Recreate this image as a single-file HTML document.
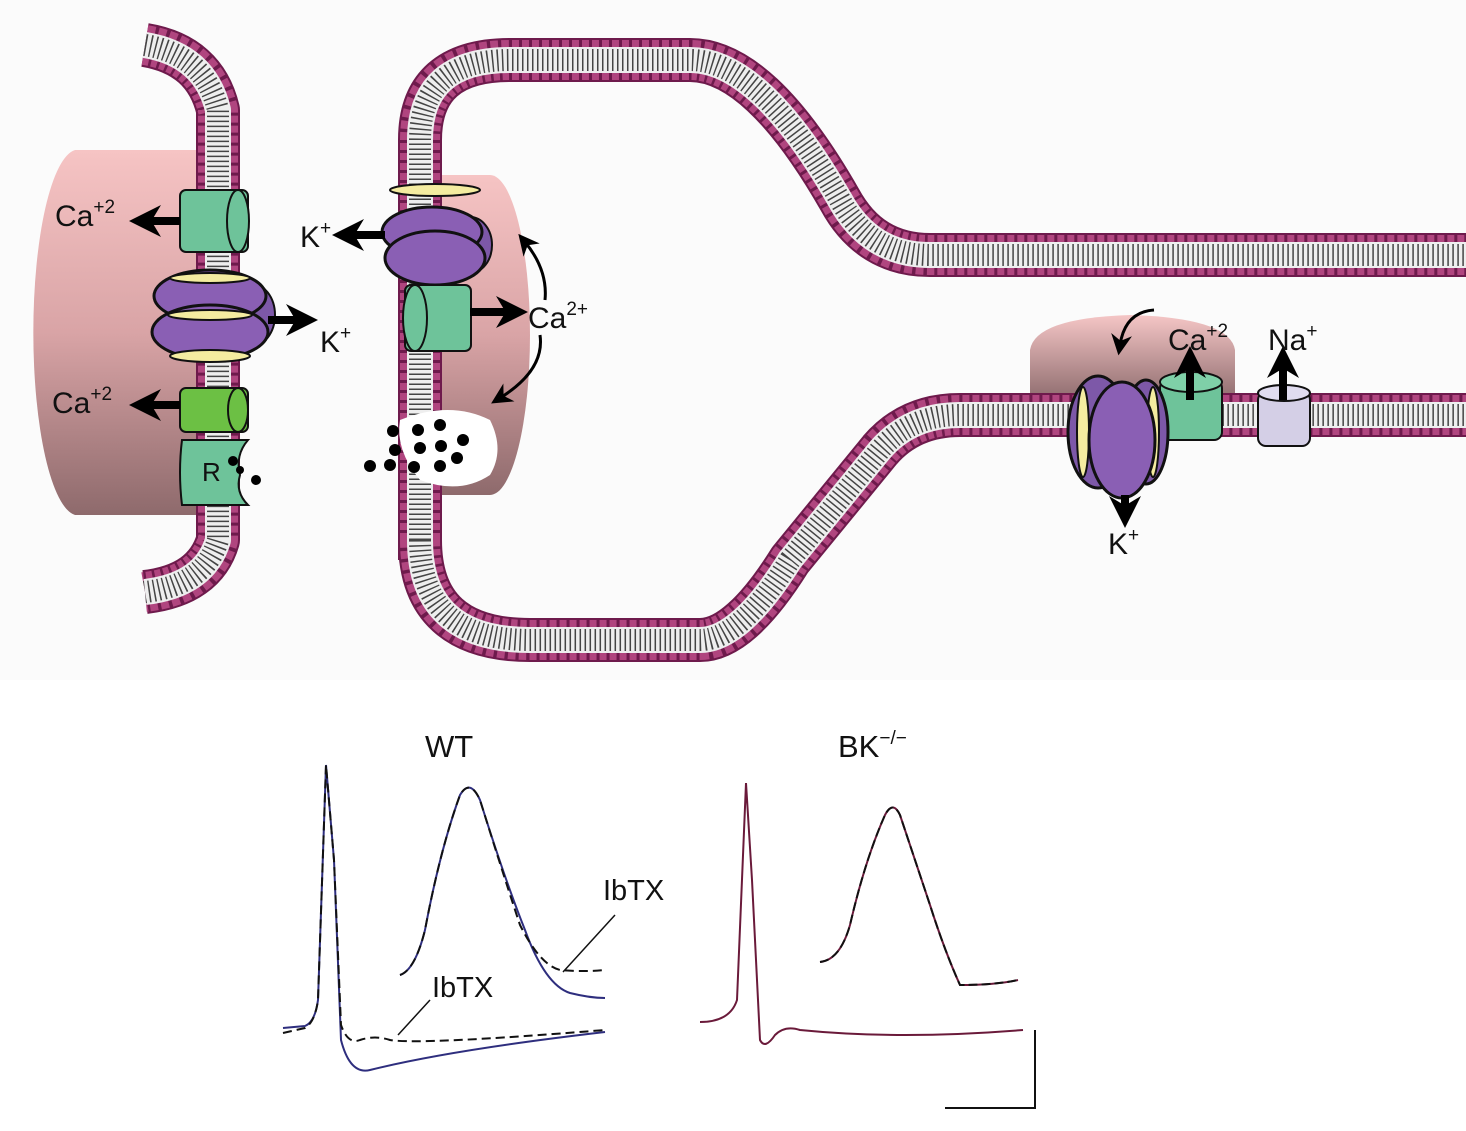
<!DOCTYPE html>
<html><head><meta charset="utf-8"><style>
html,body{margin:0;padding:0;background:#fff}
svg{display:block}
text{font-family:"Liberation Sans",sans-serif;fill:#111}
</style></head><body>
<svg width="1466" height="1131" viewBox="0 0 1466 1131" xmlns="http://www.w3.org/2000/svg">
<defs>
<linearGradient id="pk" x1="0" y1="0" x2="0" y2="1">
<stop offset="0" stop-color="#f6c4c4"/><stop offset="0.5" stop-color="#d9a4a6"/><stop offset="1" stop-color="#8e6a6c"/>
</linearGradient>
<linearGradient id="pk2" x1="0" y1="0" x2="0" y2="1">
<stop offset="0" stop-color="#f5c6c6"/><stop offset="1" stop-color="#8e6c6e"/>
</linearGradient>
<marker id="ah" viewBox="0 0 10 10" refX="5" refY="5" markerWidth="4" markerHeight="4" orient="auto"><path d="M0,0L10,5L0,10L3,5z" fill="#000"/></marker>
<marker id="ahs" viewBox="0 0 10 10" refX="5" refY="5" markerWidth="7" markerHeight="7" orient="auto"><path d="M0,0L10,5L0,10L3,5z" fill="#000"/></marker>
</defs>
<rect width="1466" height="680" fill="#fbfbfb"/>

<path d="M218,150 L75,150 A45,183 0 0 0 75,515 L218,515 Z" fill="url(#pk)"/>
<path d="M425,175 L490,175 A40,160 0 0 1 490,495 L425,495 Z" fill="url(#pk)"/>
<path d="M1030,400 L1030,350 Q1035,318 1130,315 Q1230,318 1235,350 L1235,400 Z" fill="url(#pk2)"/>

<g fill="none" stroke-linejoin="round" stroke-linecap="butt">
<path id="p1" d="M145,45 Q205,55 218,110 L218,540 Q205,585 145,592" stroke="#6e1a4c" stroke-width="44"/>
<path d="M145,45 Q205,55 218,110 L218,540 Q205,585 145,592" stroke="#b0457f" stroke-width="40" stroke-dasharray="7 3"/>
<path d="M145,45 Q205,55 218,110 L218,540 Q205,585 145,592" stroke="#eeeeee" stroke-width="26"/>
<path d="M145,45 Q205,55 218,110 L218,540 Q205,585 145,592" stroke="#444" stroke-width="22" stroke-dasharray="1.5 3.5"/>

<path d="M420,560 L420,140 Q420,60 510,60 L690,60 Q760,60 840,200 Q870,255 930,255 L1466,255" stroke="#6e1a4c" stroke-width="44"/>
<path d="M420,560 L420,140 Q420,60 510,60 L690,60 Q760,60 840,200 Q870,255 930,255 L1466,255" stroke="#b0457f" stroke-width="40" stroke-dasharray="7 3"/>
<path d="M420,560 L420,140 Q420,60 510,60 L690,60 Q760,60 840,200 Q870,255 930,255 L1466,255" stroke="#eeeeee" stroke-width="26"/>
<path d="M420,560 L420,140 Q420,60 510,60 L690,60 Q760,60 840,200 Q870,255 930,255 L1466,255" stroke="#444" stroke-width="22" stroke-dasharray="1.5 3.5"/>
<path d="M420,540 Q420,640 530,640 L700,640 Q740,640 790,560 L880,450 Q910,415 960,415 L1466,415" stroke="#6e1a4c" stroke-width="44"/>
<path d="M420,540 Q420,640 530,640 L700,640 Q740,640 790,560 L880,450 Q910,415 960,415 L1466,415" stroke="#b0457f" stroke-width="40" stroke-dasharray="7 3"/>
<path d="M420,540 Q420,640 530,640 L700,640 Q740,640 790,560 L880,450 Q910,415 960,415 L1466,415" stroke="#eeeeee" stroke-width="26"/>
<path d="M420,540 Q420,640 530,640 L700,640 Q740,640 790,560 L880,450 Q910,415 960,415 L1466,415" stroke="#444" stroke-width="22" stroke-dasharray="1.5 3.5"/>
</g>

<g stroke="#111" stroke-width="2">
<rect x="180" y="190" width="68" height="62" rx="6" fill="#6ec39a"/>
<ellipse cx="238" cy="221" rx="11" ry="31" fill="#6ec39a"/>
<ellipse cx="250" cy="315" rx="25" ry="32" fill="#7d58a8"/>
<ellipse cx="210" cy="296" rx="56" ry="26" fill="#8a5fb4" stroke-width="3"/>
<ellipse cx="210" cy="332" rx="58" ry="27" fill="#8a5fb4" stroke-width="3"/>
<ellipse cx="210" cy="278" rx="40" ry="5" fill="#f4eca0"/>
<ellipse cx="210" cy="315" rx="42" ry="5" fill="#f4eca0"/>
<ellipse cx="210" cy="356" rx="40" ry="6" fill="#f4eca0"/>
<rect x="180" y="388" width="68" height="44" rx="6" fill="#6cc044"/>
<ellipse cx="238" cy="410" rx="10" ry="22" fill="#6cc044"/>
<path d="M182,440 L248,440 Q235,455 240,475 Q235,492 248,505 L182,505 Q178,472 182,440Z" fill="#6ec39a"/>
</g>
<text x="202" y="481" font-size="26">R</text>
<g fill="#000"><circle cx="233" cy="461" r="5"/><circle cx="240" cy="470" r="4"/><circle cx="256" cy="480" r="5"/></g>
<g stroke="#000" stroke-width="8" fill="none" marker-end="url(#ah)">
<line x1="180" y1="221" x2="145" y2="221"/>
<line x1="180" y1="405" x2="145" y2="405"/>
<line x1="268" y1="320" x2="302" y2="320"/>
</g>
<text x="55" y="226" font-size="30">Ca<tspan font-size="19" dy="-13">+2</tspan></text>
<text x="52" y="413" font-size="30">Ca<tspan font-size="19" dy="-13">+2</tspan></text>
<text x="320" y="352" font-size="30">K<tspan font-size="19" dy="-13">+</tspan></text>

<g stroke="#111" stroke-width="2">
<ellipse cx="470" cy="245" rx="22" ry="28" fill="#7d58a8"/>
<ellipse cx="432" cy="232" rx="50" ry="25" fill="#8a5fb4" stroke-width="3"/>
<ellipse cx="435" cy="258" rx="50" ry="27" fill="#8a5fb4" stroke-width="3"/>
<ellipse cx="435" cy="190" rx="45" ry="6" fill="#f4eca0"/>
<rect x="405" y="285" width="66" height="66" rx="6" fill="#6ec39a"/>
<ellipse cx="415" cy="318" rx="12" ry="33" fill="#6ec39a"/>
</g>
<path d="M400,420 Q450,400 490,420 Q505,450 490,475 Q460,495 420,480 Q395,450 400,420Z" fill="#fff"/>
<g fill="#000">
<circle cx="393" cy="431" r="6"/><circle cx="418" cy="430" r="6"/><circle cx="440" cy="425" r="6"/>
<circle cx="395" cy="450" r="6"/><circle cx="420" cy="448" r="6"/><circle cx="441" cy="446" r="6"/><circle cx="463" cy="440" r="6"/>
<circle cx="370" cy="466" r="6"/><circle cx="390" cy="465" r="6"/><circle cx="414" cy="467" r="6"/><circle cx="440" cy="466" r="6"/><circle cx="457" cy="458" r="6"/>
</g>
<g stroke="#000" stroke-width="8" fill="none" marker-end="url(#ah)">
<line x1="385" y1="235" x2="348" y2="235"/>
<line x1="470" y1="312" x2="512" y2="312"/>
</g>
<g stroke="#000" stroke-width="3" fill="none" marker-end="url(#ahs)">
<path d="M545,300 Q548,270 525,242"/>
<path d="M540,335 Q545,370 500,398"/>
</g>
<text x="300" y="247" font-size="30">K<tspan font-size="19" dy="-13">+</tspan></text>
<text x="528" y="328" font-size="30">Ca<tspan font-size="19" dy="-13">2+</tspan></text>

<g stroke="#111" stroke-width="2">
<rect x="1160" y="380" width="62" height="60" rx="8" fill="#6ec39a"/>
<ellipse cx="1191" cy="382" rx="31" ry="10" fill="#7fd0a8"/>
<rect x="1258" y="392" width="52" height="54" rx="8" fill="#d4cfe6"/>
<ellipse cx="1284" cy="393" rx="26" ry="8" fill="#e0dcef"/>
<ellipse cx="1098" cy="432" rx="30" ry="56" fill="#7d58a8" stroke-width="3"/>
<ellipse cx="1146" cy="432" rx="22" ry="52" fill="#7d58a8" stroke-width="3"/>
<ellipse cx="1083" cy="432" rx="6" ry="45" fill="#f4eca0"/>
<ellipse cx="1153" cy="432" rx="6" ry="45" fill="#f4eca0"/>
<ellipse cx="1122" cy="440" rx="33" ry="58" fill="#8a5fb4" stroke-width="3"/>
</g>
<g stroke="#000" stroke-width="8" fill="none" marker-end="url(#ah)">
<line x1="1190" y1="400" x2="1190" y2="362"/>
<line x1="1283" y1="400" x2="1283" y2="362"/>
<line x1="1125" y1="495" x2="1125" y2="512"/>
</g>
<path d="M1154,310 Q1125,312 1120,345" stroke="#000" stroke-width="3" fill="none" marker-end="url(#ahs)"/>
<text x="1168" y="350" font-size="30">Ca<tspan font-size="19" dy="-13">+2</tspan></text>
<text x="1268" y="350" font-size="30">Na<tspan font-size="19" dy="-13">+</tspan></text>
<text x="1108" y="554" font-size="30">K<tspan font-size="19" dy="-13">+</tspan></text>

<text x="425" y="757" font-size="31">WT</text>
<text x="838" y="757" font-size="31">BK<tspan font-size="19" dy="-13">−/−</tspan></text>
<g fill="none" stroke-width="2">
<path d="M283,1028 L305,1026 Q315,1022 318,1000 L326,765 L334,860 L341,1040 Q350,1075 370,1070 Q450,1050 605,1032" stroke="#2e2e7e"/>
<path d="M283,1033 L305,1028 Q315,1022 318,1000 L326,765 L334,860 L341,1025 Q348,1045 360,1040 Q375,1035 390,1040 Q420,1045 605,1030" stroke="#111" stroke-dasharray="9 5"/>
<path d="M400,975 Q415,970 425,930 Q440,850 460,795 Q470,778 480,800 Q505,880 525,930 Q545,985 570,993 Q590,998 605,998" stroke="#2e2e7e"/>
<path d="M400,975 Q415,970 425,930 Q440,850 460,795 Q470,778 480,800 Q505,880 520,925 Q540,965 560,970 Q585,972 605,970" stroke="#111" stroke-dasharray="9 5"/>
<path d="M700,1022 Q730,1022 737,1000 L746,783 L752,880 L760,1040 Q765,1050 775,1035 Q785,1025 800,1030 Q900,1040 1023,1030" stroke="#6a1a3a"/>
<path d="M820,962 Q840,960 850,925 Q865,860 885,815 Q893,800 900,815 Q915,860 930,905 Q945,952 960,985 Q995,985 1018,980" stroke="#6a1a3a"/>
<path d="M820,962 Q840,960 850,925 Q865,860 885,815 Q893,800 900,815 Q915,860 930,905 Q945,952 960,985 Q995,985 1018,980" stroke="#111" stroke-dasharray="9 4"/>
</g>
<g stroke="#111" stroke-width="1.5">
<line x1="563" y1="972" x2="615" y2="915"/>
<line x1="398" y1="1035" x2="430" y2="1000"/>
</g>
<text x="603" y="900" font-size="29">IbTX</text>
<text x="432" y="997" font-size="29">IbTX</text>
<path d="M1035,1030 L1035,1108 L945,1108" stroke="#111" stroke-width="2" fill="none"/>
</svg>
</body></html>
